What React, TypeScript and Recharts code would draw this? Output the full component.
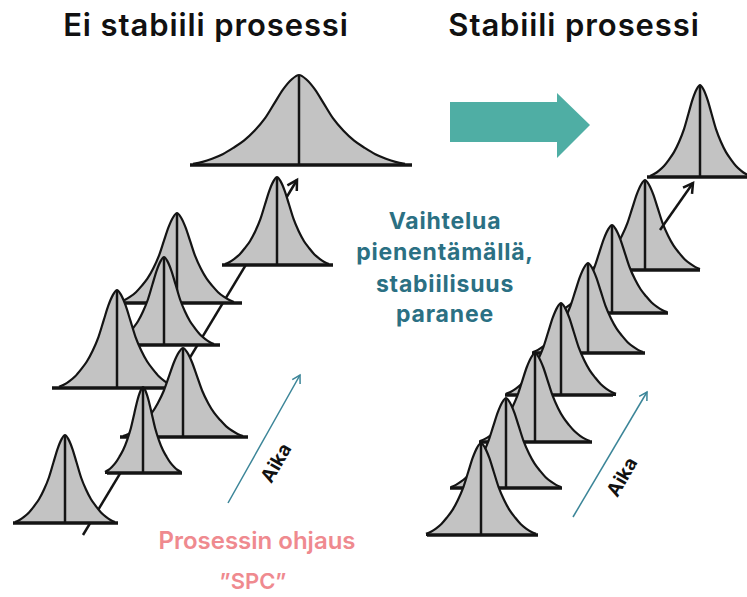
import React from 'react';
import { ComposedChart, Area, Line, XAxis, YAxis } from 'recharts';

// ---- shape of a bell (normalised offset from centre, normalised height) ----
const BELL_U = [-1, -0.91, -0.82, -0.72, -0.62, -0.52, -0.42, -0.32, -0.23, -0.15, -0.07, 0, 0.07, 0.15, 0.23, 0.32, 0.42, 0.52, 0.62, 0.72, 0.82, 0.91, 1];
const BELL_H = [0.012, 0.035, 0.07, 0.12, 0.19, 0.27, 0.38, 0.52, 0.69, 0.84, 0.95, 1, 0.95, 0.84, 0.69, 0.52, 0.38, 0.27, 0.19, 0.12, 0.07, 0.035, 0.012];

// ---- left group: "Ei stabiili prosessi" (front to back) ----
const LEFT_CENTER = [65, 143, 183, 117, 164, 177, 277, 299];
const LEFT_BASE = [523, 473, 437, 388, 345, 303, 265, 165];
const LEFT_HEIGHT = [88, 86, 89, 98, 88, 90, 88, 90];
const LEFT_HALF_WIDTH = [50, 38, 60, 58, 50, 57, 52, 106];
const LEFT_BASE_FROM = [13, 107, 120, 52, 120, 120, 222, 190];
const LEFT_BASE_TO = [118, 182, 248, 167, 220, 242, 333, 412];

// ---- right group: "Stabiili prosessi" (front to back) ----
const RIGHT_CENTER = [481, 506, 535, 561, 588, 612, 645, 700];
const RIGHT_BASE = [535, 488, 442, 395, 353, 313, 270, 177];
const RIGHT_HEIGHT = [92, 90, 89, 92, 90, 88, 90, 92];
const RIGHT_HALF_WIDTH = [55, 55, 55, 55, 55, 55, 55, 50];
const RIGHT_BASE_FROM = [427, 450, 479, 505, 532, 556, 589, 647];
const RIGHT_BASE_TO = [538, 562, 592, 613, 645, 668, 700, 747];

// ---- arrows ----
const BLACK_ARROW_BACK = { from: [83, 535], to: [297, 180] };
const BLACK_ARROW_FRONT = { from: [660, 230], to: [693, 183] };
const BLUE_ARROWS = [
  { from: [228, 503], to: [300, 375] },
  { from: [573, 517], to: [647, 392] },
];
const TEAL_ARROW_X = [450, 557, 557, 590];
const TEAL_ARROW_LOW = [142, 142, 158, 125];
const TEAL_ARROW_HIGH = [102, 102, 93, 125];

// ---- texts ----
const TITLE_LEFT = 'Ei stabiili prosessi';
const TITLE_RIGHT = 'Stabiili prosessi';
const MIDDLE_LINES = ['Vaihtelua', 'pienentämällä,', 'stabiilisuus', 'paranee'];
const SPC_LINES = ['Prosessin ohjaus', '”SPC”'];
const TIME_LABEL = 'Aika';

const GRAY = '#c3c3c3';
const INK = '#141414';
const TEAL_TEXT = '#2b7083';
const PINK = '#ef8a8f';
const BLUE = '#3b8598';
const TEAL_ARROW = '#4faea4';

type Bell = { c: number; b: number; h: number; w: number; from: number; to: number };

const makeBells = (
  cs: number[], bs: number[], hs: number[], ws: number[], fs: number[], ts: number[]
): Bell[] => cs.map((c, i) => ({ c, b: bs[i], h: hs[i], w: ws[i], from: fs[i], to: ts[i] }));

const leftBells = makeBells(LEFT_CENTER, LEFT_BASE, LEFT_HEIGHT, LEFT_HALF_WIDTH, LEFT_BASE_FROM, LEFT_BASE_TO);
const rightBells = makeBells(RIGHT_CENTER, RIGHT_BASE, RIGHT_HEIGHT, RIGHT_HALF_WIDTH, RIGHT_BASE_FROM, RIGHT_BASE_TO);

const headPoints = (from: number[], to: number[], len: number) => {
  const dx = to[0] - from[0];
  const dy = to[1] - from[1];
  const d = Math.hypot(dx, dy);
  const ux = dx / d;
  const uy = dy / d;
  const a = Math.PI / 6;
  const r1 = [ux * Math.cos(a) - uy * Math.sin(a), ux * Math.sin(a) + uy * Math.cos(a)];
  const r2 = [ux * Math.cos(-a) - uy * Math.sin(-a), ux * Math.sin(-a) + uy * Math.cos(-a)];
  return [
    { x: to[0] - len * r1[0], y: to[1] - len * r1[1] },
    { x: to[0], y: to[1] },
    { x: to[0] - len * r2[0], y: to[1] - len * r2[1] },
  ];
};

let z = 100;
const nextZ = () => ++z;

const renderBell = (bell: Bell, key: string) => {
  const pts = BELL_U.map((u, k) => ({ x: bell.c + u * bell.w, y: [bell.b, bell.b - bell.h * BELL_H[k]] }));
  return [
    <Area
      key={key + '-a'}
      data={pts}
      dataKey="y"
      type="monotone"
      fill={GRAY}
      fillOpacity={1}
      stroke={INK}
      strokeWidth={2.2}
      isAnimationActive={false}
      activeDot={false}
      dot={false}
      zIndex={nextZ()}
    />,
    <Line
      key={key + '-b'}
      data={[{ x: bell.from, y: bell.b }, { x: bell.to, y: bell.b }]}
      dataKey="y"
      type="linear"
      stroke={INK}
      strokeWidth={3.5}
      dot={false}
      activeDot={false}
      isAnimationActive={false}
      zIndex={nextZ()}
    />,
    <Line
      key={key + '-c'}
      data={[{ x: bell.c, y: bell.b }, { x: bell.c, y: bell.b - bell.h }]}
      dataKey="y"
      type="linear"
      stroke={INK}
      strokeWidth={2.5}
      dot={false}
      activeDot={false}
      isAnimationActive={false}
      zIndex={nextZ()}
    />,
  ];
};

const renderArrow = (a: { from: number[]; to: number[] }, key: string, color: string, width: number, head: number) => [
  <Line
    key={key + '-s'}
    data={[{ x: a.from[0], y: a.from[1] }, { x: a.to[0], y: a.to[1] }]}
    dataKey="y"
    type="linear"
    stroke={color}
    strokeWidth={width}
    dot={false}
    activeDot={false}
    isAnimationActive={false}
    zIndex={nextZ()}
  />,
  <Line
    key={key + '-h'}
    data={headPoints(a.from, a.to, head)}
    dataKey="y"
    type="linear"
    stroke={color}
    strokeWidth={width}
    dot={false}
    activeDot={false}
    isAnimationActive={false}
    zIndex={nextZ()}
  />,
];

const textBase: React.CSSProperties = {
  position: 'absolute',
  transform: 'translate(-50%, -50%)',
  whiteSpace: 'nowrap',
  lineHeight: 1,
  fontFamily: 'Inter, "Noto Sans", sans-serif',
};

export default function App() {
  z = 100;
  const series: React.ReactNode[] = [];
  series.push(...renderArrow(BLACK_ARROW_BACK, 'blk0', INK, 2.5, 11));
  [...leftBells].reverse().forEach((b, i) => series.push(...renderBell(b, 'L' + i)));
  [...rightBells].reverse().forEach((b, i) => series.push(...renderBell(b, 'R' + i)));
  series.push(...renderArrow(BLACK_ARROW_FRONT, 'blk1', INK, 2.5, 11));
  BLUE_ARROWS.forEach((a, i) => series.push(...renderArrow(a, 'blue' + i, BLUE, 1.5, 9)));
  series.push(
    <Area
      key="teal"
      data={TEAL_ARROW_X.map((x, i) => ({ x, y: [TEAL_ARROW_LOW[i], TEAL_ARROW_HIGH[i]] }))}
      dataKey="y"
      type="linear"
      fill={TEAL_ARROW}
      fillOpacity={1}
      stroke="none"
      isAnimationActive={false}
      activeDot={false}
      dot={false}
      zIndex={nextZ()}
    />
  );

  return (
    <div style={{ position: 'absolute', left: 0, top: 0, width: 747, height: 597, background: '#fff', overflow: 'hidden' }}>
      <ComposedChart width={747} height={597} margin={{ top: 0, right: 0, bottom: 0, left: 0 }}>
        <XAxis type="number" dataKey="x" domain={[0, 747]} allowDataOverflow hide />
        <YAxis type="number" domain={[0, 597]} reversed allowDataOverflow hide />
        {series}
      </ComposedChart>

      <div style={{ ...textBase, left: 206, top: 24, fontSize: 31, fontWeight: 600, color: '#111', letterSpacing: 0.9 }}>{TITLE_LEFT}</div>
      <div style={{ ...textBase, left: 574, top: 24, fontSize: 31, fontWeight: 600, color: '#111', letterSpacing: 0.9 }}>{TITLE_RIGHT}</div>

      {MIDDLE_LINES.map((t, i) => (
        <div key={t} style={{ ...textBase, left: 445, top: [221, 252, 284, 314][i], fontSize: 23, fontWeight: 700, color: TEAL_TEXT, letterSpacing: 0.8 }}>{t}</div>
      ))}

      {SPC_LINES.map((t, i) => (
        <div key={t} style={{ ...textBase, left: [257, 253][i], top: [541, 581][i], fontSize: [24, 22][i], fontWeight: 600, color: PINK }}>{t}</div>
      ))}

      <div style={{ ...textBase, left: 276, top: 463, fontSize: 19, fontWeight: 700, color: '#111', transform: 'translate(-50%, -50%) rotate(-60deg)' }}>{TIME_LABEL}</div>
      <div style={{ ...textBase, left: 622, top: 477, fontSize: 19, fontWeight: 700, color: '#111', transform: 'translate(-50%, -50%) rotate(-60deg)' }}>{TIME_LABEL}</div>
    </div>
  );
}
